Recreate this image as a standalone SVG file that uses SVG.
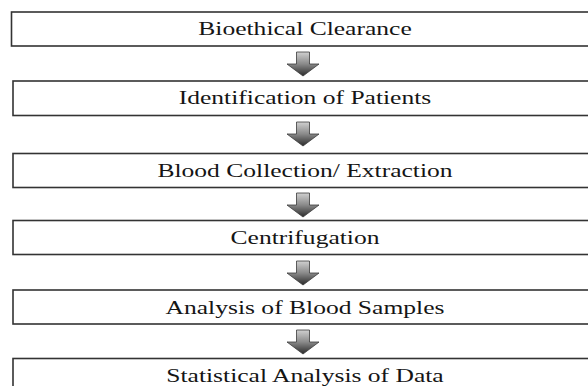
<svg xmlns="http://www.w3.org/2000/svg" width="588" height="386" viewBox="0 0 588 386">
<defs>
<style>
.box{fill:#fff;stroke:#333;stroke-width:1.6}
.lbl{font-family:'Liberation Serif','Times New Roman','DejaVu Serif',serif;font-size:18px;fill:#151515;text-anchor:middle}
.arr{fill:url(#g);stroke:#3a3a3a;stroke-width:0.8}
</style>
<linearGradient id="g" x1="0" y1="0" x2="0" y2="1">
<stop offset="0" stop-color="#d0d0d0"/>
<stop offset="0.5" stop-color="#8a8a8a"/>
<stop offset="1" stop-color="#2a2a2a"/>
</linearGradient>
<path id="arrow" d="M-6.5,0 H6.5 V12 H16 L0,24 L-16,12 H-6.5 Z"/>
</defs>
<rect width="588" height="386" fill="#fff"/>
<g id="connectors">
<use href="#arrow" class="arr" transform="translate(303,52)"/>
<use href="#arrow" class="arr" transform="translate(303,122)"/>
<use href="#arrow" class="arr" transform="translate(303,193)"/>
<use href="#arrow" class="arr" transform="translate(303,261)"/>
<use href="#arrow" class="arr" transform="translate(303,330)"/>
</g>
<g id="n1"><rect class="box" x="11.5" y="12" width="600" height="34"/><text class="lbl" transform="translate(305,35.3) scale(1.42,1)">Bioethical Clearance</text></g>
<g id="n2"><rect class="box" x="13" y="81" width="600" height="34.5"/><text class="lbl" transform="translate(305,104) scale(1.42,1)">Identification of Patients</text></g>
<g id="n3"><rect class="box" x="13" y="153.5" width="600" height="34"/><text class="lbl" transform="translate(305,177) scale(1.42,1)">Blood Collection/ Extraction</text></g>
<g id="n4"><rect class="box" x="13" y="220.5" width="600" height="34"/><text class="lbl" transform="translate(305,243.8) scale(1.42,1)">Centrifugation</text></g>
<g id="n5"><rect class="box" x="13" y="290" width="600" height="34"/><text class="lbl" transform="translate(305,313.5) scale(1.42,1)">Analysis of Blood Samples</text></g>
<g id="n6"><rect class="box" x="13" y="358.5" width="600" height="40"/><text class="lbl" transform="translate(305,381.8) scale(1.42,1)">Statistical Analysis of Data</text></g>
</svg>
